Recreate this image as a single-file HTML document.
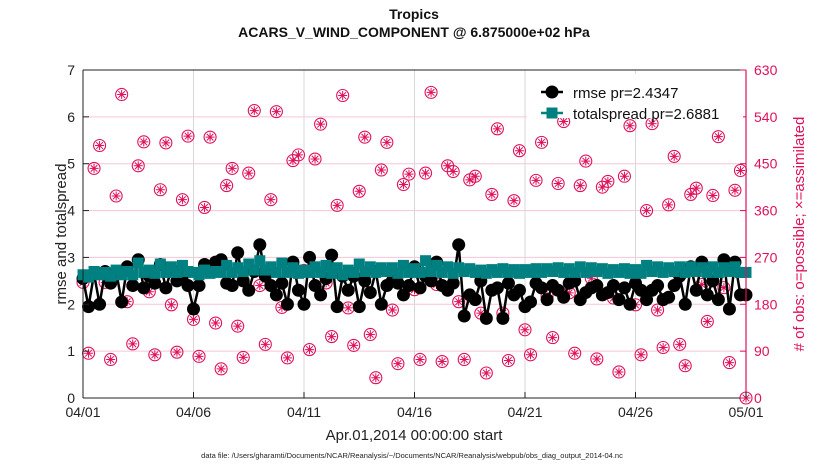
<!DOCTYPE html>
<html><head><meta charset="utf-8"><style>
body{margin:0;background:#fff;}
svg{display:block;font-family:"Liberation Sans",sans-serif;}
</style></head><body>
<svg id="chart" width="830" height="470"></svg>
<script>
const dayTicks=[0,5,10,15,20,25,30];
const dayLabels=["04/01","04/06","04/11","04/16","04/21","04/26","05/01"];
const leftTicks=[0,1,2,3,4,5,6,7];
const rightTicks=[0,90,180,270,360,450,540,630];
const rmse=[2.55,1.95,2.65,2.0, 2.7,2.45,2.7,2.05, 2.8,2.4,2.95,2.35, 2.6,2.45,2.85,2.35, 2.75,2.5,2.6,2.4,
1.9,2.4,2.85,2.75, 2.9,2.95,2.45,2.4, 3.1,2.5,2.3,2.7, 3.27,2.6,2.4,2.2, 2.45,2.0,2.9,2.3,
2.0,3.0,2.4,2.2, 2.55,3.05,1.95,2.6, 2.3,2.6,1.95,2.5, 2.25,2.7,2.0,2.4, 2.5,2.45,2.2,2.4,
2.8,2.35,2.6,2.5, 2.9,2.4,2.3,2.45, 3.27,1.75,2.2,2.1, 2.5,1.7,2.3,2.35, 1.7,2.45,2.2,2.3,
1.95,2.05,2.45,2.35, 2.1,2.4,2.3,2.15, 2.45,2.5,2.1,2.25, 2.35,2.4,2.2,2.25, 2.4,2.1,2.35,2.0,
2.45,2.3,2.1,2.3, 2.4,2.1,2.15,2.4, 2.6,2.0,2.8,2.3, 2.9,2.2,2.5,2.1, 2.95,1.9,2.9,2.2, 2.2];
const spread=[2.63,2.58,2.7,2.63, 2.68,2.6,2.73,2.63, 2.7,2.63,2.88,2.68, 2.73,2.66,2.86,2.68, 2.8,2.68,2.83,2.7,
2.68,2.63,2.73,2.66, 2.7,2.68,2.83,2.68, 2.78,2.7,2.86,2.73, 2.93,2.73,2.8,2.68, 2.88,2.68,2.78,2.66,
2.73,2.68,2.8,2.68, 2.83,2.66,2.78,2.63, 2.73,2.68,2.86,2.7, 2.8,2.68,2.78,2.7, 2.78,2.66,2.83,2.68,
2.76,2.68,2.93,2.7, 2.83,2.68,2.8,2.66, 2.78,2.7,2.76,2.68, 2.73,2.66,2.74,2.68, 2.76,2.68,2.74,2.66,
2.74,2.68,2.76,2.68, 2.76,2.7,2.78,2.68, 2.76,2.68,2.8,2.68, 2.78,2.7,2.76,2.66, 2.74,2.68,2.76,2.66,
2.74,2.66,2.83,2.7, 2.8,2.68,2.78,2.7, 2.8,2.68,2.8,2.7, 2.78,2.68,2.8,2.68, 2.78,2.7,2.8,2.68, 2.68];
const obs=[222,86,441,485, 222,74,388,583, 185,104,446,492, 204,83,400,490, 179,88,381,503,
151,80,366,501, 144,56,408,441, 138,78,432,552, 216,103,381,550, 174,77,456,467,
245,93,459,526, 221,118,370,581, 173,101,397,501, 122,39,438,491, 169,66,410,430,
208,74,432,587, 218,70,446,435, 185,74,419,426, 163,48,391,517, 163,72,379,475,
131,83,418,491, 196,116,412,531, 202,86,408,455, 230,75,405,416, 192,50,426,523,
179,83,360,527, 169,97,371,464, 103,62,391,403, 218,147,389,502, 212,68,399,437, 0];
</script>
<script>
const svg=document.getElementById('chart');
const NS='http://www.w3.org/2000/svg';
const X0=83,X1=746,Y0=398,Y1=70;
const xs=d=>X0+(d/30)*(X1-X0);
const yl=v=>Y0-(v/7)*(Y0-Y1);
const yr=v=>Y0-(v/630)*(Y0-Y1);
const MAG='#e0105a',TEAL='#008080';
function mk(tag,attrs,parent){const e=document.createElementNS(NS,tag);for(const k in attrs)e.setAttribute(k,attrs[k]);(parent||svg).appendChild(e);return e;}
function txt(s,attrs,parent){const e=mk('text',attrs,parent);e.textContent=s;return e;}

const grid=mk('g',{});


leftTicks.forEach(v=>{if(v>0&&v<7)mk('line',{x1:X0,x2:X1,y1:yl(v),y2:yl(v),stroke:'#f6c6d8','stroke-width':1},grid);});
dayTicks.forEach(d=>{if(d>0&&d<30)mk('line',{x1:xs(d),x2:xs(d),y1:Y1,y2:Y0,stroke:'#d8d8d8','stroke-width':1},grid);});

const og=mk('g',{});


obs.forEach((v,i)=>{
  const x=xs(i*0.25),y=yr(v);
  const g=mk('g',{},og);
  
  
  mk('circle',{cx:x,cy:y,r:6,fill:'none',stroke:MAG,'stroke-width':1.1},g);
  mk('path',{d:`M${x-4.5},${y}H${x+4.5}M${x},${y-4.5}V${y+4.5}M${x-3.3},${y-3.3}L${x+3.3},${y+3.3}M${x-3.3},${y+3.3}L${x+3.3},${y-3.3}`,stroke:MAG,'stroke-width':1},g);
});

const rg=mk('g',{});


mk('polyline',{points:rmse.map((v,i)=>xs(i*0.25)+','+yl(v)).join(' '),fill:'none',stroke:'#000','stroke-width':2.5},rg);
rmse.forEach((v,i)=>{const c=mk('circle',{cx:xs(i*0.25),cy:yl(v),r:6.5,fill:'#000'},rg);

});

const sg=mk('g',{});


mk('polyline',{points:spread.map((v,i)=>xs(i*0.25)+','+yl(v)).join(' '),fill:'none',stroke:TEAL,'stroke-width':2.5},sg);
spread.forEach((v,i)=>{const r=mk('rect',{x:xs(i*0.25)-5.5,y:yl(v)-5.5,width:11,height:11,fill:TEAL},sg);

});

mk('line',{x1:X0,x2:X1,y1:Y1,y2:Y1,stroke:'#222','stroke-width':1});
mk('line',{x1:X0,x2:X1,y1:Y0,y2:Y0,stroke:'#222','stroke-width':1});
mk('line',{x1:X0,x2:X0,y1:Y1,y2:Y0,stroke:'#222','stroke-width':1});
mk('line',{x1:X1,x2:X1,y1:Y1,y2:Y0,stroke:MAG,'stroke-width':1.2});

const xa=mk('g',{});


dayTicks.forEach((d,i)=>{mk('line',{x1:xs(d),x2:xs(d),y1:Y0,y2:Y0-6,stroke:'#222'},xa);
txt(dayLabels[i],{x:xs(d),y:Y0+19,'text-anchor':'middle','font-size':14,fill:'#222'},xa);});
const la=mk('g',{});


leftTicks.forEach(v=>{mk('line',{x1:X0,x2:X0+6,y1:yl(v),y2:yl(v),stroke:'#222'},la);
txt(String(v),{x:X0-8,y:yl(v)+5,'text-anchor':'end','font-size':14,fill:'#222'},la);});
const ra=mk('g',{});


rightTicks.forEach(v=>{mk('line',{x1:X1,x2:X1-6,y1:yr(v),y2:yr(v),stroke:MAG},ra);
txt(String(v),{x:X1+8,y:yr(v)+5,'font-size':14,fill:MAG},ra);});
</script>
<script>
(function(){
const svg=document.getElementById('chart');
const NS='http://www.w3.org/2000/svg';
function t(s,a,name){const e=document.createElementNS(NS,'text');for(const k in a)e.setAttribute(k,a[k]);e.textContent=s;


svg.appendChild(e);return e;}
t('Tropics',{x:414,y:19,'text-anchor':'middle','font-size':14,'font-weight':'bold',fill:'#111'},'title');
t('ACARS_V_WIND_COMPONENT @ 6.875000e+02 hPa',{x:414,y:37,'text-anchor':'middle','font-size':14,'font-weight':'bold',fill:'#111'},'subtitle');
t('rmse and totalspread',{x:0,y:0,'text-anchor':'middle','font-size':15,fill:'#222',transform:'translate(66,234) rotate(-90)'},'y-axis-title');
t('# of obs: o=possible; \u00d7=assimilated',{x:0,y:0,'text-anchor':'middle','font-size':15,fill:'#e0105a',transform:'translate(804,234) rotate(-90)'},'right-axis-title');
t('Apr.01,2014 00:00:00 start',{x:414,y:440,'text-anchor':'middle','font-size':15,fill:'#222'},'x-axis-title');
t('data file: /Users/gharamti/Documents/NCAR/Reanalysis/~/Documents/NCAR/Reanalysis/webpub/obs_diag_output_2014-04.nc',{x:412,y:458,'text-anchor':'middle','font-size':7.5,fill:'#222'},'data-file-note');
const lg=document.createElementNS(NS,'g');


svg.appendChild(lg);
lg.innerHTML='<rect x="527" y="74" width="216" height="44" fill="#fff"/>'+
'<line x1="541" x2="563" y1="92" y2="92" stroke="#000" stroke-width="2.5"/><circle cx="552" cy="92" r="6.5" fill="#000"/>'+
'<text x="573" y="98" font-size="15" fill="#111">rmse pr=2.4347</text>'+
'<line x1="541" x2="563" y1="113" y2="113" stroke="#008080" stroke-width="2.5"/><rect x="546.5" y="107.5" width="11" height="11" fill="#008080"/>'+
'<text x="573" y="119" font-size="15" fill="#111">totalspread pr=2.6881</text>';
})();
</script>
</body></html>
